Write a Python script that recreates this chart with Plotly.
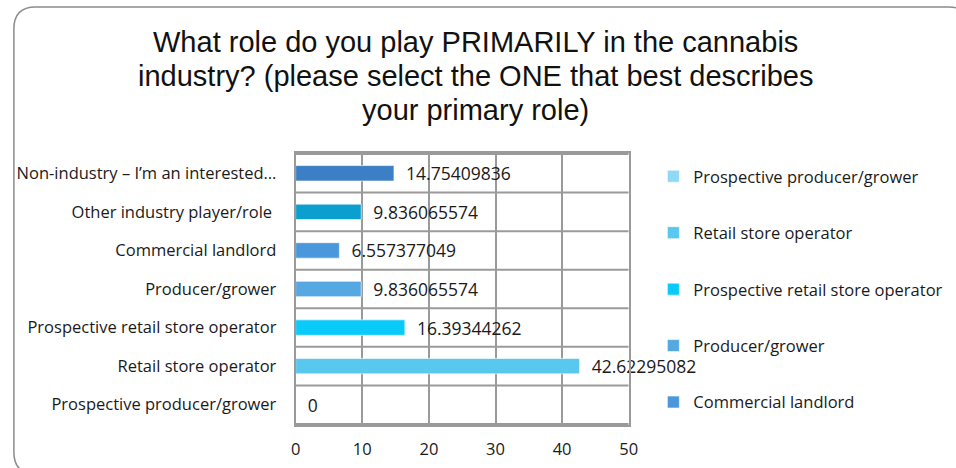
import plotly.graph_objects as go

# Survey responses (% of respondents), listed bottom to top of the chart
roles = [
    "Prospective producer/grower",
    "Retail store operator",
    "Prospective retail store operator",
    "Producer/grower",
    "Commercial landlord",
    "Other industry player/role ",
    "Non-industry – I’m an interested…",
]
shares = [0, 42.62295082, 16.39344262, 9.836065574, 6.557377049, 9.836065574, 14.75409836]
colors = ["#8FD9F6", "#58C8EE", "#0ACAF9", "#56A8E3", "#4A98DB", "#0B9FD0", "#3C7FC4"]
legend_shown = [True, True, True, True, True, False, False]

title_lines = [
    "What role do you play PRIMARILY in the cannabis",
    "industry? (please select the ONE that best describes",
    "your primary role)",
]

W, H = 956, 468
FONT = "Open Sans"


def px(x):
    return x / W


def py(y):
    return 1 - y / H


fig = go.Figure()
for i, (role, val, col, show) in enumerate(zip(roles, shares, colors, legend_shown)):
    fig.add_trace(go.Bar(
        y=[role], x=[val], orientation="h", name=role.strip(),
        marker=dict(color=col, line=dict(color="rgba(255,255,255,0.6)", width=1)),
        width=0.4,
        text=["  " + format(val, ".10g")], textposition="outside",
        constraintext="none",
        textfont=dict(family=FONT, size=17.5, color="#1a1a1a"),
        cliponaxis=False, showlegend=show, legendgroup=f"g{i}",
    ))

grid = "#9A9A9A"
shapes = []
# horizontal separators between categories
for k in range(len(roles) + 1):
    shapes.append(dict(type="line", xref="x", yref="y", x0=0, x1=50,
                       y0=k - 0.5, y1=k - 0.5, line=dict(color=grid, width=2), layer="below"))

# rounded outer frame
x0, y0, x1, y1, r = 9, 7, 980, 474, 22
path = (f"M {px(x0)},{py(y0 + r)} "
        f"Q {px(x0)},{py(y0)} {px(x0 + r)},{py(y0)} "
        f"L {px(x1 - r)},{py(y0)} "
        f"Q {px(x1)},{py(y0)} {px(x1)},{py(y0 + r)} "
        f"L {px(x1)},{py(y1 - r)} "
        f"Q {px(x1)},{py(y1)} {px(x1 - r)},{py(y1)} "
        f"L {px(x0 + r)},{py(y1)} "
        f"Q {px(x0)},{py(y1)} {px(x0)},{py(y1 - r)} Z")
shapes.append(dict(type="path", xref="paper", yref="paper", path=path,
                   line=dict(color="#8C8C8C", width=1.5)))

annotations = [
    dict(text=line, xref="paper", yref="paper", x=px(477), y=py(yc),
         xanchor="center", yanchor="middle", showarrow=False,
         font=dict(family="Liberation Sans", size=29, color="#111111"))
    for line, yc in zip(title_lines, [42, 76, 110])
]

fig.update_layout(
    width=W, height=H,
    margin=dict(l=0, r=0, t=0, b=0),
    paper_bgcolor="white", plot_bgcolor="white",
    barmode="overlay",
    font=dict(family=FONT, size=16.5, color="#1a1a1a"),
    shapes=shapes,
    annotations=annotations,
    xaxis=dict(domain=[px(295), px(633)], range=[0, 50], dtick=10,
               showgrid=True, gridcolor=grid, gridwidth=2, zeroline=False,
               showline=True, linecolor=grid, linewidth=2, mirror=True,
               ticks="outside", ticklen=8, tickcolor="rgba(0,0,0,0)",
               tickfont=dict(family=FONT, size=16.5), fixedrange=True),
    yaxis=dict(domain=[py(425), py(153)], type="category",
               categoryorder="array", categoryarray=roles,
               showgrid=False, showline=True, linecolor=grid, linewidth=2, mirror=True,
               ticks="outside", ticklen=14, tickcolor="rgba(0,0,0,0)",
               tickfont=dict(family=FONT, size=16.5), fixedrange=True),
    legend=dict(x=px(658), y=py(159), xanchor="left", yanchor="top",
                traceorder="grouped", tracegroupgap=32,
                font=dict(family=FONT, size=16.5), bgcolor="rgba(0,0,0,0)",
                itemwidth=30),
)

fig.write_html("out.html")
